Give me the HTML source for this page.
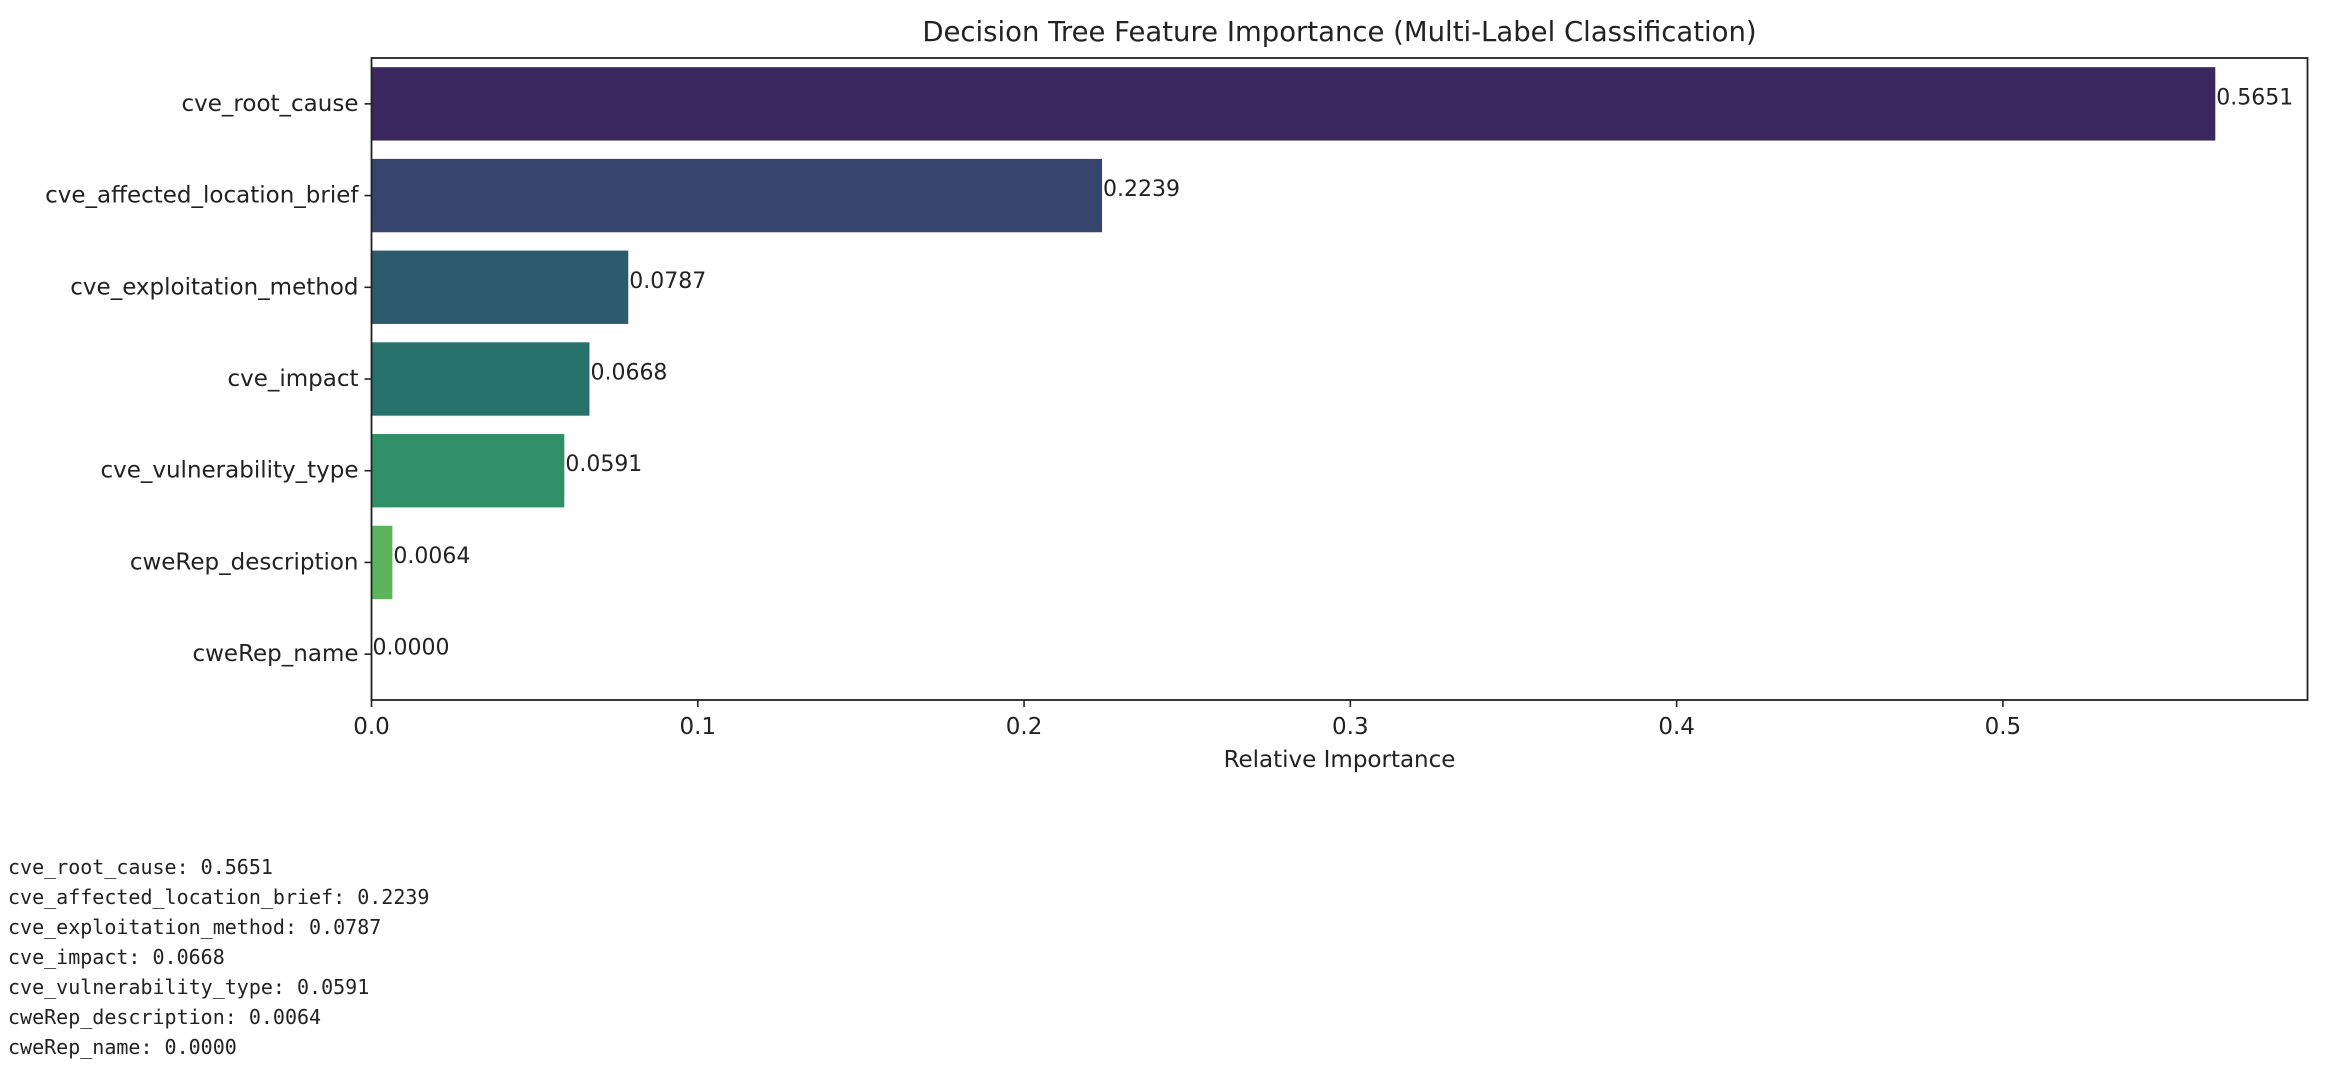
<!DOCTYPE html>
<html><head><meta charset="utf-8"><style>
html,body{margin:0;padding:0;background:#fff;width:2334px;height:1076px;overflow:hidden}
svg{display:block}
.mono{font-family:"DejaVu Sans Mono","Liberation Mono",monospace;font-size:20px;fill:#222}
</style></head><body>
<svg id="chart" width="2334" height="1076" xmlns="http://www.w3.org/2000/svg" font-family="DejaVu Sans, Liberation Sans, sans-serif">
</svg>
<script>
const categories = ["cve_root_cause","cve_affected_location_brief","cve_exploitation_method","cve_impact","cve_vulnerability_type","cweRep_description","cweRep_name"];
const importances = [0.5651,0.2239,0.0787,0.0668,0.0591,0.0064,0.0000];
const barColors = ["#3b2760","#37446e","#2d5b6e","#27716b","#318f68","#5cb35c","#a8d14a"];
const xTicks = [0.0,0.1,0.2,0.3,0.4,0.5];
const xTickLabels = ["0.0","0.1","0.2","0.3","0.4","0.5"];

const NS="http://www.w3.org/2000/svg";
const svg=document.getElementById('chart');
const L=371.5,R=2307.5,T=58,B=700;
const xMax=Math.max(...importances)*1.05;
const xs=v=>L+(v/xMax)*(R-L);
const band=(B-T)/categories.length;
const yc=i=>T+band*(i+0.5);
function el(tag,attrs,parent){const e=document.createElementNS(NS,tag);for(const k in attrs)e.setAttribute(k,attrs[k]);(parent||svg).appendChild(e);return e;}

const title=el('text',{x:(L+R)/2,y:32,'text-anchor':'middle','dominant-baseline':'central','font-size':27.5,fill:'#222'});


title.textContent="Decision Tree Feature Importance (Multi-Label Classification)";

categories.forEach((c,i)=>{
  const h=band*0.8;
  const r=el('rect',{x:L,y:yc(i)-h/2,width:Math.max(0,xs(importances[i])-L),height:h,fill:barColors[i]});
  
  
  const t=el('text',{x:xs(importances[i])+1,y:yc(i)-6,'dominant-baseline':'central','font-size':22,fill:'#222'});
  
  
  t.textContent=importances[i].toFixed(4);
  const tk=el('line',{x1:L-7,x2:L,y1:yc(i),y2:yc(i),stroke:'#222','stroke-width':1.6});
  
  
  const lb=el('text',{x:L-13,y:yc(i),'text-anchor':'end','dominant-baseline':'central','font-size':23,fill:'#222'});
  
  
  lb.textContent=c;
});

xTicks.forEach((v,i)=>{
  const tk=el('line',{x1:xs(v),x2:xs(v),y1:B,y2:B+7,stroke:'#222','stroke-width':1.6});
  
  
  const lb=el('text',{x:xs(v),y:727,'text-anchor':'middle','dominant-baseline':'central','font-size':23,fill:'#222'});
  
  
  lb.textContent=xTickLabels[i];
});

const frame=el('rect',{x:L,y:T,width:R-L,height:B-T,fill:'none',stroke:'#222','stroke-width':1.8});



const xl=el('text',{x:(L+R)/2,y:760,'text-anchor':'middle','dominant-baseline':'central','font-size':23,fill:'#222'});


xl.textContent="Relative Importance";

categories.forEach((c,i)=>{
  const t=el('text',{x:8,y:867+i*30,'dominant-baseline':'central',class:'mono'});
  
  
  t.textContent=c+": "+importances[i].toFixed(4);
});
</script>
</body></html>
